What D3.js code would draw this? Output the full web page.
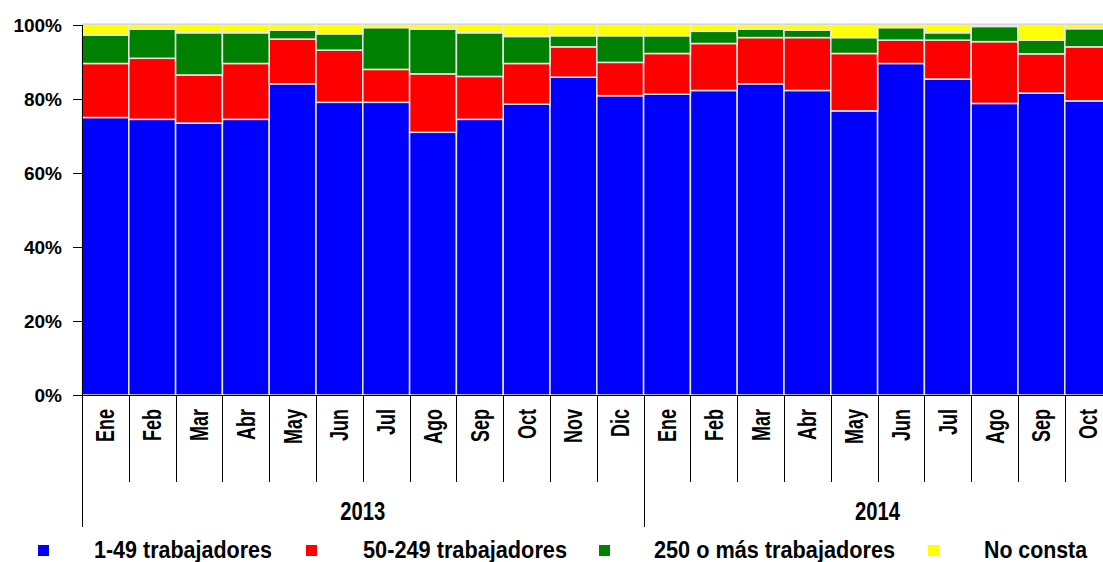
<!DOCTYPE html>
<html lang="es">
<head>
<meta charset="UTF-8">
<title>Empresas por tamaño</title>
<style>
    body { margin: 0; background: #ffffff; overflow: hidden; }
    svg { display: block; font-family: "Liberation Sans", Arial, sans-serif; font-weight: bold; }
</style>
</head>
<body>
<script src="https://d3js.org/d3.v7.min.js"></script>
<script>
    const months = ["Ene", "Feb", "Mar", "Abr", "May", "Jun", "Jul", "Ago", "Sep", "Oct", "Nov", "Dic",
                    "Ene", "Feb", "Mar", "Abr", "May", "Jun", "Jul", "Ago", "Sep", "Oct"];
    const years = [{ name: "2013", count: 12 }, { name: "2014", count: 10 }];

    const small  = [75.0, 74.5, 73.5, 74.5, 84.1, 79.1, 79.1, 71.0, 74.5, 78.6, 85.9, 80.9,
                    81.3, 82.3, 84.1, 82.3, 76.8, 89.6, 85.4, 78.8, 81.6, 79.5];
    const medium = [14.6, 16.5, 13.0, 15.1, 12.1, 14.1, 8.9, 15.8, 11.6, 11.0, 8.2, 9.0,
                    11.0, 12.7, 12.5, 14.3, 15.5, 6.3, 10.5, 16.7, 10.6, 14.6];
    const large  = [7.7, 7.9, 11.4, 8.3, 2.4, 4.4, 11.3, 12.1, 11.8, 7.3, 3.0, 7.2,
                    4.8, 3.3, 2.3, 2.0, 4.3, 3.4, 2.0, 4.1, 3.7, 4.9];
    const unknown = [2.7, 1.1, 2.1, 2.1, 1.4, 2.4, 0.7, 1.1, 2.1, 3.1, 2.9, 2.9,
                     2.9, 1.7, 1.1, 1.4, 3.4, 0.7, 2.1, 0.4, 4.1, 1.0];

    const seriesNames = ["1-49 trabajadores", "50-249 trabajadores", "250 o más trabajadores", "No consta"];
    const colors = ["#0000ff", "#ff0000", "#008000", "#ffff00"];
    const yTicks = [0, 20, 40, 60, 80, 100];

    const width = 1103, height = 562;
    const plotLeft = 82, plotTop = 25, plotBottom = 395, band = 46.8;

    const svg = d3.select("body").append("svg")
        .attr("width", width)
        .attr("height", height);

    const rows = months.map((m, i) => ({ i: i, s0: small[i], s1: medium[i], s2: large[i], s3: unknown[i] }));
    const keys = ["s0", "s1", "s2", "s3"];
    const stacked = d3.stack().keys(keys)(rows);

    const x = d3.scaleBand()
        .domain(d3.range(months.length))
        .range([plotLeft, plotLeft + band * months.length])
        .padding(0);

    const y = d3.scaleLinear().domain([0, 100]).range([plotBottom, plotTop]);

    // plot area top border
    svg.append("line")
        .attr("x1", plotLeft).attr("x2", width)
        .attr("y1", plotTop - 0.5).attr("y2", plotTop - 0.5)
        .attr("stroke", "#a0a0a0").attr("stroke-width", 1.5);

    // bars
    svg.append("g").selectAll("g")
        .data(stacked)
        .join("g")
        .attr("fill", (d, i) => colors[i])
        .selectAll("rect")
        .data(d => d)
        .join("rect")
        .attr("x", d => x(d.data.i))
        .attr("width", x.bandwidth())
        .attr("y", d => y(d[1]))
        .attr("height", d => y(d[0]) - y(d[1]))
        .attr("stroke", "#e8e8e8")
        .attr("stroke-width", 1.5);

    // y axis
    const yAxis = svg.append("g")
        .attr("transform", `translate(${plotLeft},0)`)
        .call(d3.axisLeft(y).tickValues(yTicks).tickSize(9).tickPadding(11).tickFormat(d => d + "%"));
    yAxis.select(".domain").attr("stroke", "#000").attr("d", `M0.5,${plotTop}V${plotBottom}`);
    yAxis.selectAll(".tick line").attr("stroke", "#000");
    yAxis.selectAll(".tick text")
        .attr("fill", "#000")
        .style("font-size", "19px")
        .style("font-weight", "bold")
        .style("font-family", "'Liberation Sans', Arial, sans-serif");

    // x axis baseline
    svg.append("line")
        .attr("x1", plotLeft).attr("x2", width)
        .attr("y1", plotBottom + 0.5).attr("y2", plotBottom + 0.5)
        .attr("stroke", "#000");

    // month separators
    const yearStarts = [];
    let acc = 0;
    years.forEach(yr => { yearStarts.push(acc); acc += yr.count; });
    yearStarts.push(acc);

    svg.append("g").selectAll("line")
        .data(d3.range(months.length + 1))
        .join("line")
        .attr("x1", i => Math.round(plotLeft + band * i) + 0.5)
        .attr("x2", i => Math.round(plotLeft + band * i) + 0.5)
        .attr("y1", plotBottom)
        .attr("y2", i => yearStarts.includes(i) ? 527 : 482)
        .attr("stroke", "#000");

    // month labels (condensed, like the original)
    svg.append("g").selectAll("text")
        .data(months)
        .join("text")
        .attr("transform", (d, i) => `translate(${x(i) + x.bandwidth() / 2},409) rotate(-90)`)
        .attr("text-anchor", "end")
        .attr("dy", "0.36em")
        .style("font-size", "25px")
        .text(d => d)
        .each(function() {
            const w = this.getComputedTextLength();
            d3.select(this).attr("textLength", w * 0.72).attr("lengthAdjust", "spacingAndGlyphs");
        });

    // year labels
    svg.append("g").selectAll("text")
        .data(years)
        .join("text")
        .attr("x", (d, i) => plotLeft + band * (yearStarts[i] + d.count / 2))
        .attr("y", 520)
        .attr("text-anchor", "middle")
        .attr("textLength", 45)
        .attr("lengthAdjust", "spacingAndGlyphs")
        .style("font-size", "25px")
        .text(d => d.name);

    // legend
    const legendX = [38, 306, 599, 928];
    const textX = [94, 363, 654, 984];
    const textW = [178, 204, 241, 103];
    const legend = svg.append("g").selectAll("g")
        .data(seriesNames)
        .join("g");
    legend.append("rect")
        .attr("x", (d, i) => legendX[i])
        .attr("y", 545)
        .attr("width", 11)
        .attr("height", 11)
        .attr("fill", (d, i) => colors[i]);
    legend.append("text")
        .attr("x", (d, i) => textX[i])
        .attr("y", 558)
        .attr("textLength", (d, i) => textW[i])
        .attr("lengthAdjust", "spacingAndGlyphs")
        .style("font-size", "23px")
        .text(d => d);
</script>
</body>
</html>
